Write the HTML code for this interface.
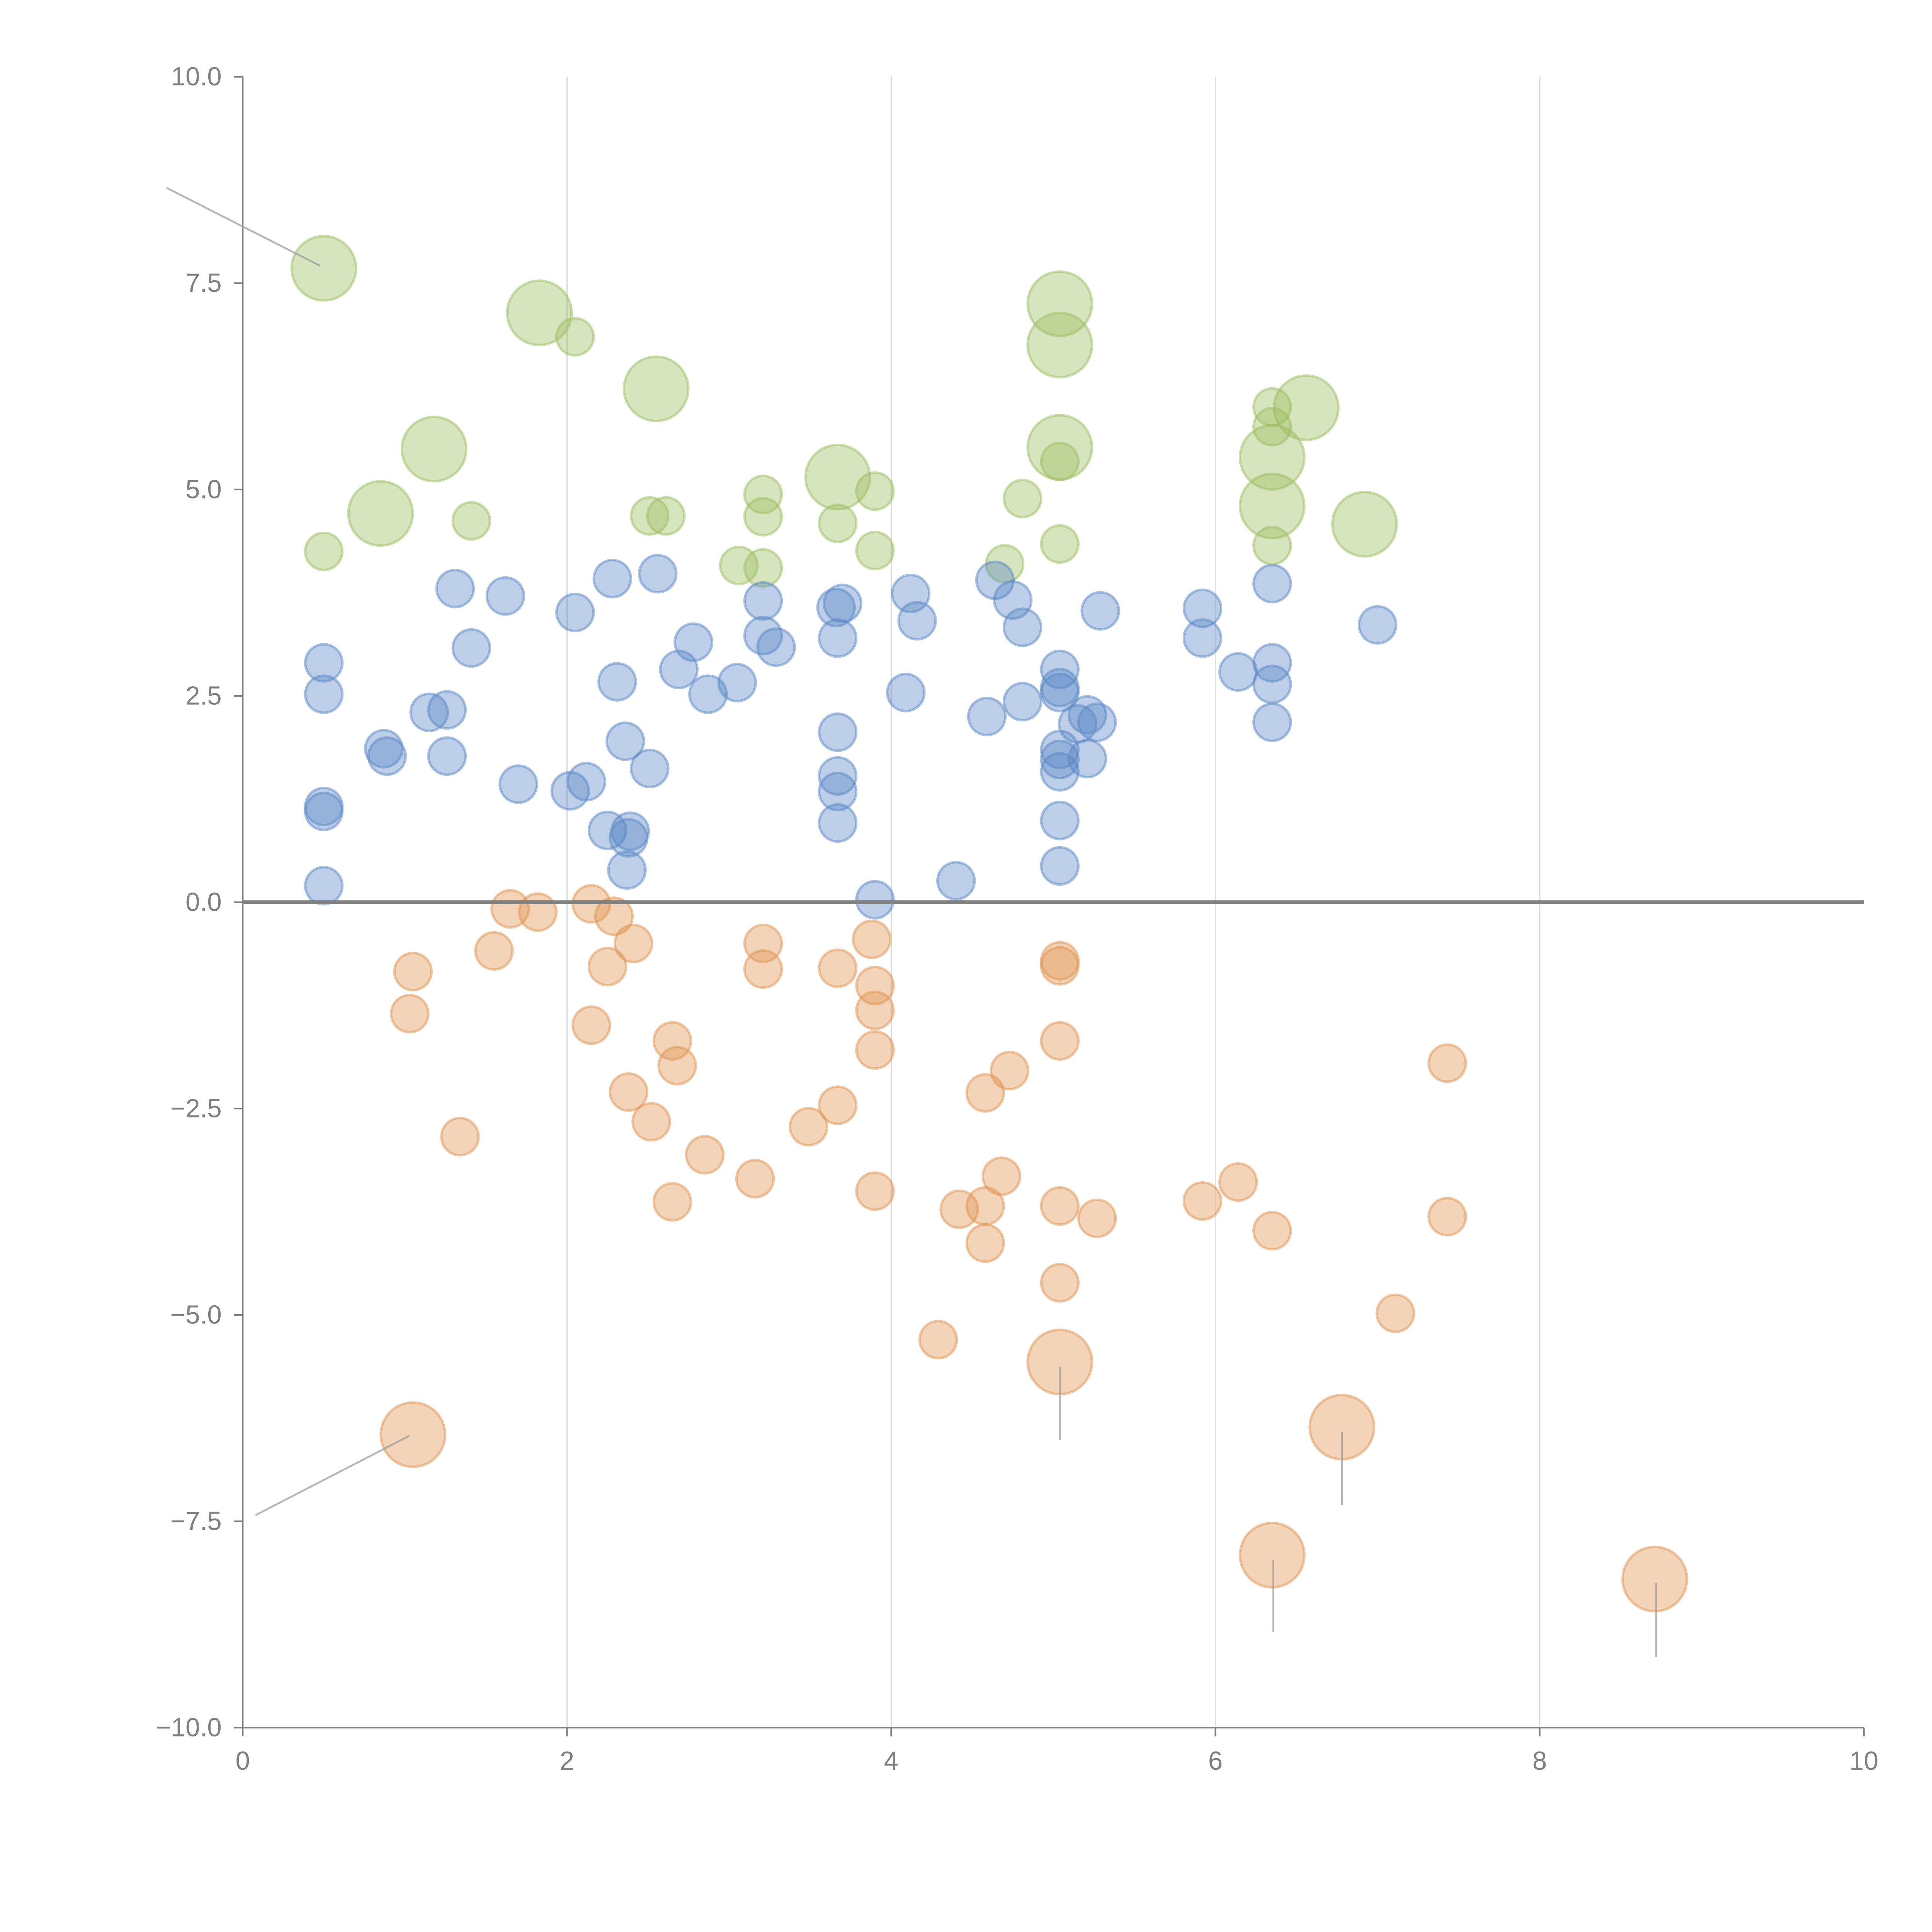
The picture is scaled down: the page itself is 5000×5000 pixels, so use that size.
<!DOCTYPE html>
<html><head><meta charset="utf-8"><style>
html,body{margin:0;padding:0;background:#fff;width:5000px;height:5000px;overflow:hidden}
svg{display:block}
text{font-family:"Liberation Sans",sans-serif}
</style></head><body>
<svg id="chart" width="5000" height="5000" viewBox="0 0 1560 1560" xmlns="http://www.w3.org/2000/svg">
<g id="grid"></g>
<g id="axes"></g>
<g id="marks"></g>
</svg>
<script>
const xTicks = [0, 2, 4, 6, 8, 10];
const yTicks = [10, 7.5, 5, 2.5, 0, -2.5, -5, -7.5, -10];
const yTickLabels = ["10.0", "7.5", "5.0", "2.5", "0.0", "\u22122.5", "\u22125.0", "\u22127.5", "\u221210.0"];

const greenX = [0.50,1.83,2.05,2.55,1.18,0.85,1.41,0.50,2.51,2.61,3.21,3.21,3.06,3.21,3.67,3.67,3.90,3.90,4.70,4.81,5.04,5.04,5.04,5.04,5.04,6.35,6.35,6.56,6.35,6.35,6.35,6.92];
const greenY = [7.68,7.14,6.85,6.22,5.49,4.71,4.62,4.25,4.68,4.68,4.94,4.67,4.08,4.05,5.15,4.59,4.98,4.26,4.10,4.89,7.25,6.75,5.51,5.34,4.34,6.00,5.76,5.99,5.39,4.80,4.32,4.58];
const greenS = [3,3,1,3,3,3,1,1,1,1,1,1,1,1,3,1,1,1,1,1,3,3,3,1,1,1,1,3,3,3,1,3];

const blueX = [0.50,0.50,0.50,0.50,0.50,0.87,0.89,1.15,1.26,1.26,1.31,1.41,1.62,1.70,2.02,2.05,2.12,2.25,2.28,2.31,2.36,2.37,2.39,2.38,2.51,2.56,2.69,2.78,2.87,3.05,3.21,3.21,3.29,3.66,3.70,3.67,3.67,3.67,3.67,3.67,3.90,4.09,4.12,4.16,4.40,4.59,4.64,4.75,4.81,4.81,5.04,5.04,5.04,5.04,5.04,5.04,5.04,5.04,5.15,5.21,5.21,5.27,5.29,5.92,5.92,6.14,6.35,6.35,6.35,6.35,7.00];
const blueY = [2.90,2.52,1.16,1.10,0.20,1.86,1.77,2.30,2.33,1.77,3.80,3.08,3.71,1.43,1.35,3.51,1.46,0.87,3.92,2.67,1.95,0.39,0.86,0.78,1.62,3.98,2.82,3.15,2.52,2.66,3.65,3.23,3.09,3.57,3.62,3.20,2.06,1.53,1.34,0.96,0.03,2.54,3.74,3.41,0.26,2.25,3.90,3.66,3.33,2.43,2.82,2.60,2.54,1.85,1.73,1.58,0.99,0.44,2.16,2.27,1.74,2.18,3.53,3.56,3.20,2.79,3.86,2.90,2.64,2.18,3.36];

const orangeX = [1.65,1.82,2.15,2.29,2.41,1.05,1.03,1.55,1.34,2.15,2.25,2.38,2.52,2.65,2.68,2.65,2.85,3.16,3.21,3.21,3.49,3.67,3.67,3.88,3.90,3.90,3.90,3.90,4.29,4.42,4.58,4.58,4.58,4.68,4.73,5.04,5.04,5.04,5.04,5.04,5.04,5.27,5.92,6.14,6.35,6.35,6.78,7.11,7.43,7.43,8.71,1.05];
const orangeY = [-0.08,-0.12,-0.02,-0.17,-0.50,-0.84,-1.35,-0.59,-2.84,-1.49,-0.78,-2.30,-2.66,-1.68,-1.98,-3.63,-3.06,-3.35,-0.50,-0.81,-2.72,-0.80,-2.46,-0.45,-1.01,-1.31,-1.79,-3.50,-5.30,-3.72,-3.68,-4.13,-2.31,-3.32,-2.04,-0.71,-0.77,-1.68,-3.68,-4.61,-5.57,-3.83,-3.62,-3.39,-3.98,-7.91,-6.36,-4.98,-1.95,-3.81,-8.20,-6.45];
const orangeS = [1,1,1,1,1,1,1,1,1,1,1,1,1,1,1,1,1,1,1,1,1,1,1,1,1,1,1,1,1,1,1,1,1,1,1,1,1,1,1,1,3,1,1,1,1,3,3,1,1,1,3,3];

const NS = "http://www.w3.org/2000/svg";
const X0 = 196, X1 = 1505, Y0 = 1395, Y1 = 62;
function sx(v){ return X0 + (v - 0) / 10 * (X1 - X0); }
function sy(v){ return Y0 - (v + 10) / 20 * (Y0 - Y1); }
function rad(s){ return 15 * Math.sqrt(s); }
function mk(tag, attrs, parent){ const e = document.createElementNS(NS, tag); for (const k in attrs) e.setAttribute(k, attrs[k]); parent.appendChild(e); return e; }

const grid = document.getElementById('grid');
const axes = document.getElementById('axes');
const marks = document.getElementById('marks');

xTicks.forEach(t => {
  if (t > 0 && t < 10) {
    const g = mk('line', {x1:sx(t), x2:sx(t), y1:Y1, y2:Y0, stroke:'#dcdcdc', 'stroke-width':1}, grid);
    
    
  }
  const tk = mk('line', {x1:sx(t), x2:sx(t), y1:Y0, y2:Y0+7, stroke:'#808080', 'stroke-width':1.3}, axes);
  
  
  const lb = mk('text', {x:sx(t), y:Y0+34, 'text-anchor':'middle', 'font-size':21, fill:'#808080'}, axes);
  lb.textContent = String(t);
  
  
});
yTicks.forEach((t, i) => {
  const tk = mk('line', {x1:X0-7, x2:X0, y1:sy(t), y2:sy(t), stroke:'#808080', 'stroke-width':1.3}, axes);
  
  
  const lb = mk('text', {x:X0-17, y:sy(t)+7, 'text-anchor':'end', 'font-size':21, fill:'#808080'}, axes);
  lb.textContent = yTickLabels[i];
  
  
});
const ya = mk('line', {x1:X0, x2:X0, y1:Y1, y2:Y0, stroke:'#808080', 'stroke-width':1.3}, axes);


const xa = mk('line', {x1:X0, x2:X1, y1:Y0, y2:Y0, stroke:'#808080', 'stroke-width':1.3}, axes);



function series(xs, ys, ss, fill, stroke, name){
  const g = mk('g', {}, marks);
  
  
  xs.forEach((x, i) => {
    const c = mk('circle', {cx:sx(x), cy:sy(ys[i]), r:rad(ss ? ss[i] : 1), fill:fill, 'fill-opacity':0.4, stroke:stroke, 'stroke-opacity':0.5, 'stroke-width':2}, g);
    
    
  });
}
series(greenX, greenY, greenS, '#9bbd5f', '#9bbd5f', 'green');
series(blueX, blueY, null, '#5a87c5', '#5a87c5', 'blue');
series(orangeX, orangeY, orangeS, '#e0934f', '#e0934f', 'orange');

const zl = mk('line', {x1:X0, x2:X1, y1:sy(0), y2:sy(0), stroke:'#808080', 'stroke-width':3}, marks);



// leader lines: [series, index, dx1, dy1, dx2, dy2] (pixel offsets from bubble centre)
const leaders = [
  ['g', 0, -3, -2, -127, -65],
  ['o', 51, -3, 1, -127, 65],
  ['o', 40, 0, 4, 0, 63],
  ['o', 46, 0, 4, 0, 63],
  ['o', 45, 1, 4, 1, 62],
  ['o', 50, 1, 3, 1, 63]
];
leaders.forEach(l => {
  const xs = l[0] === 'g' ? greenX : orangeX, ys = l[0] === 'g' ? greenY : orangeY;
  const cx = sx(xs[l[1]]), cy = sy(ys[l[1]]);
  const ln = mk('line', {x1:cx+l[2], y1:cy+l[3], x2:cx+l[4], y2:cy+l[5], stroke:'#999', 'stroke-opacity':0.7, 'stroke-width':1.5}, marks);
  
  
});
</script>
</body></html>
